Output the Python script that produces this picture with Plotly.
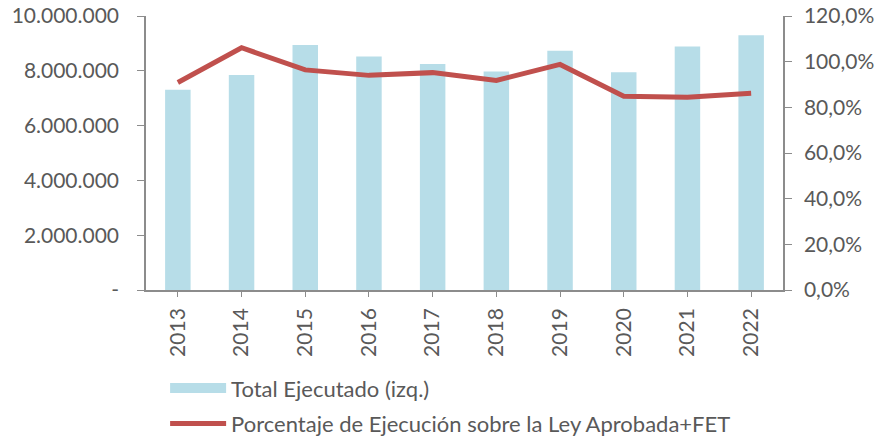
import plotly.graph_objects as go

years = ["2013", "2014", "2015", "2016", "2017", "2018", "2019", "2020", "2021", "2022"]
total_ejecutado = [7310000, 7850000, 8940000, 8520000, 8250000, 7970000, 8730000, 7950000, 8890000, 9300000]
porcentaje = [90.9, 106.1, 96.4, 94.0, 95.2, 91.8, 98.8, 84.9, 84.4, 86.2]

left_tickvals = [0, 2000000, 4000000, 6000000, 8000000, 10000000]
left_ticktext = ["-", "2.000.000", "4.000.000", "6.000.000", "8.000.000", "10.000.000"]
right_tickvals = [0, 20, 40, 60, 80, 100, 120]
right_ticktext = ["0,0%", "20,0%", "40,0%", "60,0%", "80,0%", "100,0%", "120,0%"]

bar_color = "#B7DDE8"
line_color = "#C0504D"
text_color = "#595959"
axis_color = "#8C8C8C"
font_family = "Lato, 'Open Sans', sans-serif"

fig = go.Figure()
fig.add_trace(go.Bar(
    x=years, y=total_ejecutado, marker=dict(color=bar_color, line=dict(width=0)),
    width=0.4, showlegend=False, yaxis="y",
))
# legend entry for bar drawn as a wide block
fig.add_trace(go.Scatter(
    x=[None], y=[None], mode="lines", line=dict(color=bar_color, width=14),
    name="Total Ejecutado (izq.)", legendgroup="a", yaxis="y",
))
fig.add_trace(go.Scatter(
    x=years, y=porcentaje, mode="lines", line=dict(color=line_color, width=5),
    name="Porcentaje de Ejecución sobre la Ley Aprobada+FET", legendgroup="b", yaxis="y2",
))

fig.update_layout(
    width=881, height=436,
    margin=dict(l=146, r=98, t=16, b=146, autoexpand=False),
    paper_bgcolor="white", plot_bgcolor="white",
    font=dict(family=font_family, size=21, color=text_color),
    xaxis=dict(
        type="category", showgrid=False, showline=True, linecolor=axis_color, linewidth=1.5,
        ticks="outside", ticklen=5, tickcolor=axis_color, tickangle=-90, automargin=False,
        tickfont=dict(size=21, color=text_color), range=[-0.5, 9.5], ticklabelstandoff=3,
    ),
    yaxis=dict(
        range=[0, 10000000], tickvals=left_tickvals, ticktext=left_ticktext, automargin=False,
        showgrid=False, zeroline=False, showline=True, linecolor=axis_color, linewidth=1.5,
        ticks="outside", ticklen=7, tickcolor=axis_color, ticklabelstandoff=14,
        tickfont=dict(size=21, color=text_color),
    ),
    yaxis2=dict(
        range=[0, 120], tickvals=right_tickvals, ticktext=right_ticktext, overlaying="y", side="right",
        showgrid=False, zeroline=False, showline=True, linecolor=axis_color, linewidth=1.5,
        ticks="outside", ticklen=7, tickcolor=axis_color, ticklabelstandoff=8, automargin=False,
        tickfont=dict(size=21, color=text_color),
    ),
    legend=dict(
        orientation="v", xref="paper", x=0.030, xanchor="left",
        yref="container", y=0.158, yanchor="top",
        font=dict(size=22, color=text_color), itemwidth=56, traceorder="grouped",
        tracegroupgap=4, bgcolor="rgba(0,0,0,0)",
    ),
)

fig.write_html(
    "out.html",
    config={"displayModeBar": False},
    post_script="document.body.style.margin='0px';document.body.style.overflow='hidden';",
)
